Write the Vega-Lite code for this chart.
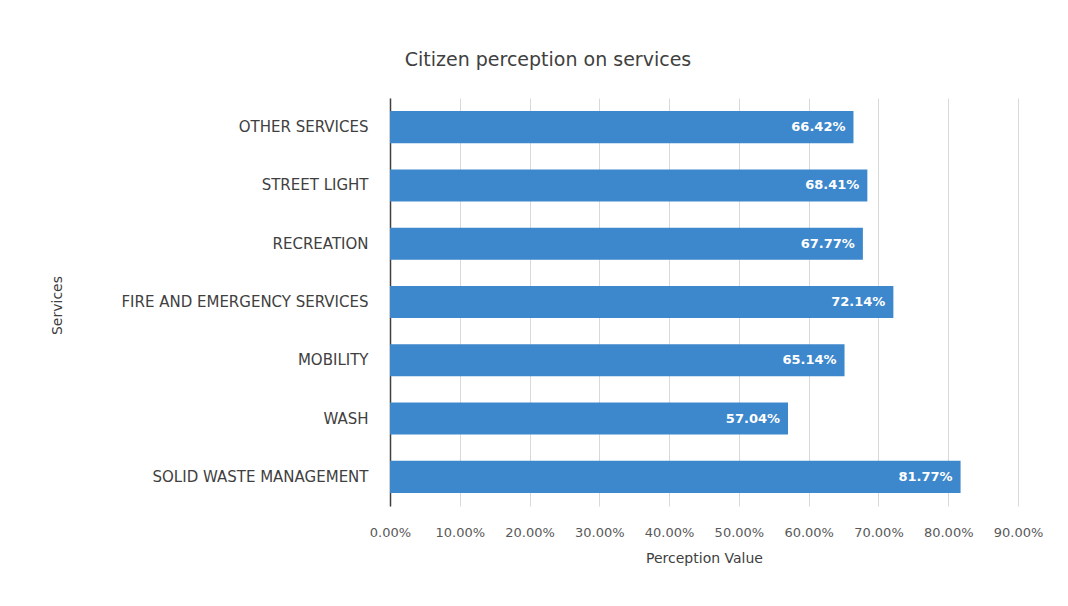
{
  "$schema": "https://vega.github.io/schema/vega-lite/v6.json",
  "autosize": "none",
  "width": 628,
  "height": 408,
  "padding": {"left": 390, "top": 98, "right": 50, "bottom": 100},
  "background": "white",
  "title": {
    "text": "Citizen perception on services",
    "anchor": "middle",
    "dx": -156,
    "offset": 28,
    "fontSize": 19,
    "fontWeight": "normal",
    "color": "#404040",
    "font": "DejaVu Sans"
  },
  "data": {
    "values": [
      {"service": "OTHER SERVICES", "value": 0.6642},
      {"service": "STREET LIGHT", "value": 0.6841},
      {"service": "RECREATION", "value": 0.6777},
      {"service": "FIRE AND EMERGENCY SERVICES", "value": 0.7214},
      {"service": "MOBILITY", "value": 0.6514},
      {"service": "WASH", "value": 0.5704},
      {"service": "SOLID WASTE MANAGEMENT", "value": 0.8177}
    ]
  },
  "encoding": {
    "y": {
      "field": "service",
      "type": "nominal",
      "sort": null,
      "scale": {"paddingInner": 0.45, "paddingOuter": 0.225},
      "axis": {
        "title": "Services",
        "titleAngle": -90,
        "titleX": -326,
        "titleY": 207,
        "titleFontSize": 14,
        "titleFontWeight": "normal",
        "titleColor": "#404040",
        "labelFontSize": 15,
        "labelColor": "#404040",
        "labelPadding": 22,
        "ticks": false,
        "domainColor": "#404040",
        "domainWidth": 1.5,
        "labelLimit": 400
      }
    },
    "x": {
      "field": "value",
      "type": "quantitative",
      "scale": {"domain": [0, 0.9], "nice": false},
      "axis": {
        "title": "Perception Value",
        "format": ".2%",
        "values": [0, 0.1, 0.2, 0.3, 0.4, 0.5, 0.6, 0.7, 0.8, 0.9],
        "labelFontSize": 13,
        "labelColor": "#595959",
        "labelPadding": 20,
        "labelOverlap": false,
        "labelFlush": false,
        "titleFontSize": 14,
        "titleFontWeight": "normal",
        "titleColor": "#404040",
        "titlePadding": 12,
        "ticks": false,
        "domain": false,
        "grid": true,
        "gridColor": "#d9d9d9"
      }
    }
  },
  "layer": [
    {"mark": {"type": "bar", "color": "#3d87cc"}},
    {
      "mark": {"type": "text", "align": "right", "dx": -8, "color": "white", "fontWeight": "bold", "fontSize": 13},
      "encoding": {"text": {"field": "value", "type": "quantitative", "format": ".2%"}}
    }
  ],
  "config": {"view": {"stroke": null}, "font": "DejaVu Sans"}
}
